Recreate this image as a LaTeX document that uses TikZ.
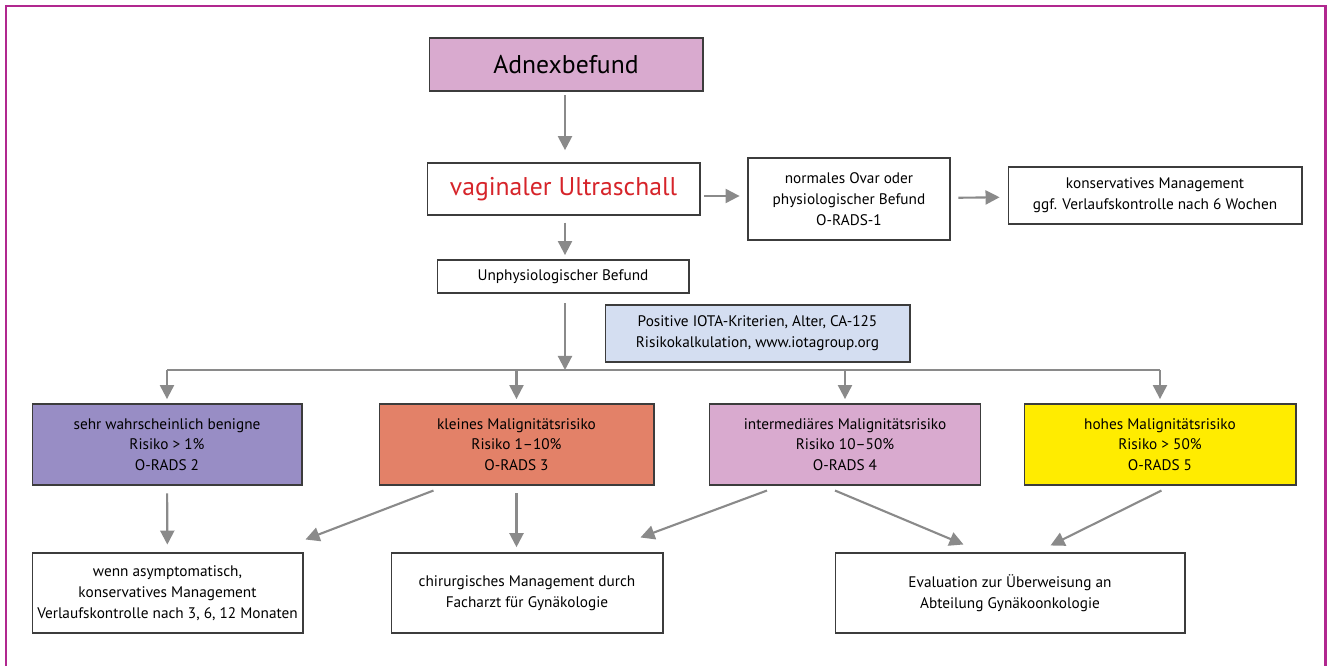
\documentclass[tikz,border=0pt]{standalone}
\usepackage{fontspec}
\setmainfont{PT Sans}
\usetikzlibrary{arrows.meta,calc}

\definecolor{rahmen}{RGB}{177,40,143}
\definecolor{linie}{RGB}{60,60,60}
\definecolor{pfeilgrau}{RGB}{138,138,138}
\definecolor{flieder}{RGB}{217,170,207}
\definecolor{violett}{RGB}{152,141,197}
\definecolor{lachs}{RGB}{227,129,104}
\definecolor{gelb}{RGB}{255,236,0}
\definecolor{hellblau}{RGB}{212,222,241}
\definecolor{rot}{RGB}{214,36,42}

\newcommand{\klein}{\fontsize{8.7}{11.8}\selectfont}
\newcommand{\gross}{\fontsize{14.6}{17}\selectfont}

\begin{document}
\begin{tikzpicture}[x=0.02cm,y=-0.02cm,
  kasten/.style={draw=linie,line width=0.6pt,align=center,inner sep=0pt,font=\klein},
  pfeil/.style={draw=pfeilgrau,line width=1.2pt,-{Triangle[length=8pt,width=8pt]}},
  strich/.style={draw=pfeilgrau,line width=1.2pt}]
\useasboundingbox (0,0) rectangle (1330,666);
% ---------- Rahmen (unten offen) ----------
\draw[rahmen,line width=1.7pt] (6,666) -- (6,6) -- (1325,6) -- (1325,666);

% ---------- obere Kette ----------
\coordinate (split) at (565,370);
\node[kasten,fill=flieder,minimum width=5.48cm,minimum height=1.06cm,font=\gross]
  (adnex) at (566,64.5) {Adnexbefund};
\node[kasten,minimum width=5.46cm,minimum height=1.04cm,font=\gross,text=rot]
  (vaginal) at (563.5,189) {vaginaler Ultraschall};
\node[kasten,minimum width=4.04cm,minimum height=1.64cm]
  (normal) at (849,199) {normales Ovar oder\\physiologischer Befund\\O-RADS-1};
\node[kasten,minimum width=5.88cm,minimum height=1.14cm]
  (konserv) at (1155,195.5) {konservatives Management\\ggf. Verlaufskontrolle nach 6 Wochen};
\node[kasten,minimum width=5.04cm,minimum height=0.66cm]
  (unphys) at (563,276.5) {Unphysiologischer Befund};
\node[kasten,fill=hellblau,minimum width=6.1cm,minimum height=1.14cm]
  (iota) at (757.5,333.5) {Positive IOTA-Kriterien, Alter, CA-125\\Risikokalkulation, www.iotagroup.org};

\draw[pfeil,shorten <=2pt,shorten >=7pt] (adnex.south -| split) -- (vaginal.north -| split);
\draw[pfeil,shorten <=2pt,shorten >=4.5pt] ($(vaginal.east)+(0,7)$) -- ($(normal.west)+(0,-3)$);
\draw[pfeil,shorten <=4.5pt,shorten >=4.5pt] (normal) -- (konserv);
\draw[pfeil,shorten <=4pt,shorten >=2.5pt] (vaginal.south -| split) -- (unphys.north -| split);

% ---------- Verteilung auf die vier Risikogruppen ----------
\draw[pfeil,shorten <=5.5pt] (unphys.south -| split) -- (split);

\node[kasten,fill=violett,minimum width=5.4cm,minimum height=1.62cm]
  (orads2) at (167,444.5) {sehr wahrscheinlich benigne\\Risiko > 1\%\\O-RADS 2};
\node[kasten,fill=lachs,minimum width=5.5cm,minimum height=1.62cm]
  (orads3) at (516.5,444.5) {kleines Malignitätsrisiko\\Risiko 1–10\%\\O-RADS 3};
\node[kasten,fill=flieder,minimum width=5.42cm,minimum height=1.62cm]
  (orads4) at (845,444.5) {intermediäres Malignitätsrisiko\\Risiko 10–50\%\\O-RADS 4};
\node[kasten,fill=gelb,minimum width=5.44cm,minimum height=1.62cm]
  (orads5) at (1160,444.5) {hohes Malignitätsrisiko\\Risiko > 50\%\\O-RADS 5};

\draw[strich] (orads2.north |- split) -- (orads5.north |- split);
\foreach \g in {orads2,orads3,orads4,orads5}
  \draw[pfeil,shorten >=2.5pt] (\g.north |- split) -- (\g.north);

% ---------- Management ----------
\node[kasten,minimum width=5.42cm,minimum height=1.6cm]
  (abwarten) at (167.5,593) {wenn asymptomatisch,\\konservatives Management\\Verlaufskontrolle nach 3, 6, 12 Monaten};
\node[kasten,minimum width=5.44cm,minimum height=1.6cm]
  (chirurgie) at (527,593) {chirurgisches Management durch\\Facharzt für Gynäkologie};
\node[kasten,minimum width=7cm,minimum height=1.6cm]
  (onko) at (1010,593) {Evaluation zur Überweisung an\\Abteilung Gynäkoonkologie};

\draw[pfeil,shorten <=4.5pt,shorten >=4.5pt] (orads2) -- (abwarten);
\draw[pfeil] ($(orads3.south west)+(55,5)$) -- ($(abwarten.north east)+(2,-13)$);
\draw[pfeil,shorten <=4.5pt,shorten >=3pt] (orads3.south) -- (orads3.south |- chirurgie.north);
\draw[pfeil] ($(orads4.south west)+(58,5)$) -- ($(chirurgie.north east)+(-23,-15)$);
\draw[pfeil] ($(orads4.south west)+(126,5)$) -- ($(onko.north west)+(129,-8)$);
\draw[pfeil] ($(orads5.south west)+(138,5)$) -- ($(onko.north west)+(216,-7)$);
\end{tikzpicture}
\end{document}
